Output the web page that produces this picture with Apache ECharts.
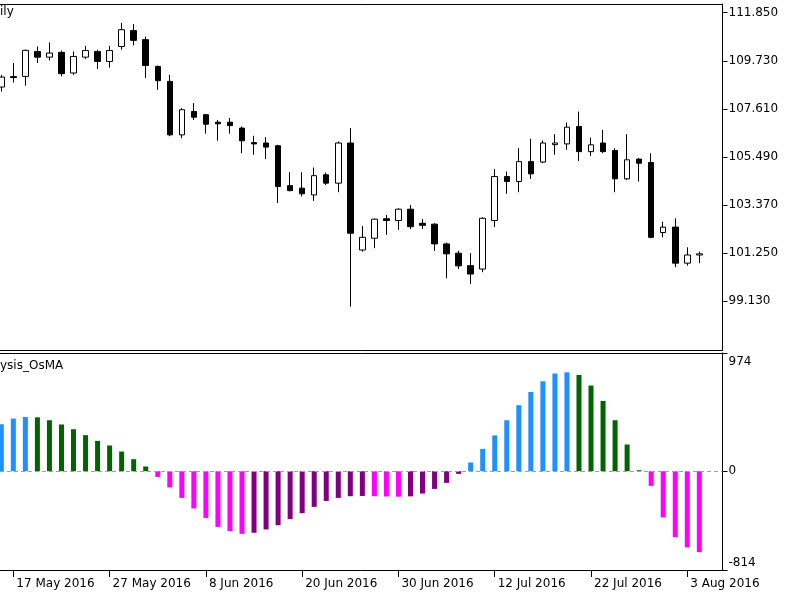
<!DOCTYPE html>
<html>
<head>
<meta charset="utf-8">
<script src="https://cdn.jsdelivr.net/npm/echarts@6/dist/echarts.min.js"></script>
<style>html,body{margin:0;padding:0;background:#fff;}#c{width:800px;height:600px;}</style>
</head>
<body>
<div id="c"></div>
<script>
// ---- data (USDJPY daily, 16 May 2016 – 4 Aug 2016) ----
const dates = [
 '2016.05.16','2016.05.17','2016.05.18','2016.05.19','2016.05.20',
 '2016.05.23','2016.05.24','2016.05.25','2016.05.26','2016.05.27',
 '2016.05.30','2016.05.31','2016.06.01','2016.06.02','2016.06.03',
 '2016.06.06','2016.06.07','2016.06.08','2016.06.09','2016.06.10',
 '2016.06.13','2016.06.14','2016.06.15','2016.06.16','2016.06.17',
 '2016.06.20','2016.06.21','2016.06.22','2016.06.23','2016.06.24',
 '2016.06.27','2016.06.28','2016.06.29','2016.06.30','2016.07.01',
 '2016.07.04','2016.07.05','2016.07.06','2016.07.07','2016.07.08',
 '2016.07.11','2016.07.12','2016.07.13','2016.07.14','2016.07.15',
 '2016.07.18','2016.07.19','2016.07.20','2016.07.21','2016.07.22',
 '2016.07.25','2016.07.26','2016.07.27','2016.07.28','2016.07.29',
 '2016.08.01','2016.08.02','2016.08.03','2016.08.04'
];
const open = [
 108.57,109.03,109.04,110.14,109.89, 110.10,109.19,109.89,110.14,109.70,
 110.36,111.06,110.66,109.48,108.82, 106.46,107.49,107.35,107.02,107.02,
 106.76,106.12,106.10,105.98,104.22, 104.11,103.81,104.70,104.33,106.10,
 101.38,101.90,102.76,102.68,103.18, 102.56,102.52,101.65,101.24,100.69,
 100.54,102.68,104.62,104.40,105.28, 105.26,106.03,106.06,106.83,105.72,
 106.10,105.77,104.52,105.39,105.24, 102.15,102.39,100.80,101.16
];
const close = [
 109.01,108.99,110.19,109.89,110.07, 109.16,109.92,110.18,109.70,110.18,
 111.10,110.63,109.52,108.85,106.46, 107.57,107.24,106.93,106.95,106.87,
 106.20,106.06,105.92,104.18,104.00, 103.86,104.66,104.33,106.10,102.12,
 101.94,102.74,102.68,103.18,102.41, 102.47,101.65,101.21,100.68,100.32,
 102.78,104.62,104.40,105.28,104.74, 106.10,106.10,106.80,105.72,106.02,
 105.72,104.52,105.36,105.21,101.94, 102.39,100.80,101.16,101.21
];
const low = [
 108.37,108.77,108.63,109.63,109.74, 109.04,109.11,109.80,109.36,109.43,
 110.22,110.41,108.97,108.45,106.40, 106.31,107.12,106.51,106.20,106.51,
 105.65,105.58,105.39,103.45,103.97, 103.74,103.55,104.25,103.93,98.88,
 101.31,101.46,102.05,102.27,102.30, 102.31,101.34,100.13,100.54,99.88,
 100.40,102.39,103.86,103.93,104.52, 105.21,105.58,105.80,105.31,105.53,
 105.65,103.93,104.47,104.40,101.90, 101.94,100.62,100.69,100.80
];
const high = [
 109.11,109.63,110.22,110.36,110.54, 110.18,110.14,110.39,110.22,110.39,
 111.40,111.35,110.80,109.52,109.11, 107.64,107.86,107.38,107.12,107.20,
 106.83,106.42,106.36,106.02,104.81, 104.81,105.02,104.80,106.17,106.76,
 102.44,102.77,102.93,103.22,103.37, 102.75,102.56,101.71,101.35,101.24,
 102.83,104.95,104.84,105.87,106.29, 106.21,106.49,107.00,107.49,106.34,
 106.68,105.87,106.49,105.43,105.65, 102.63,102.78,101.50,101.31
];
const osma = [
 387,434,447,444,420, 385,346,297,250,212,
 162,99,39,-47,-134, -220,-307,-385,-459,-494,
 -516,-507,-480,-445,-395, -346,-294,-245,-220,-206,
 -204,-206,-208,-210,-207, -184,-146,-96,-22,72,
 184,295,420,544,653, 741,805,815,793,706,
 579,420,220,8,-121, -381,-544,-628,-667
];
const tickDates = ['2016.05.17','2016.05.27','2016.06.08','2016.06.20','2016.06.30','2016.07.12','2016.07.22','2016.08.03'];
const tickLabels = ['17 May 2016','27 May 2016','8 Jun 2016','20 Jun 2016','30 Jun 2016','12 Jul 2016','22 Jul 2016','3 Aug 2016'];
const priceTicks = [99.13,101.25,103.37,105.49,107.61,109.73,111.85];
const osmaTicks = [-814,0,974];

// ---- build ----
const tickIndex = tickDates.map(d => dates.indexOf(d));
const candleData = dates.map((d,i) => [i, open[i], close[i], low[i], high[i]]);
const osmaData = dates.map((d,i) => [i, osma[i]]);
const COL = {upPos:'#1E90FF', dnPos:'#006400', dnNeg:'#FF00FF', upNeg:'#800080'};
function barColor(p){
  const i = p.dataIndex, v = osma[i], prev = i>0 ? osma[i-1] : -Infinity;
  const rising = v >= prev;
  if (v >= 0) return rising ? COL.upPos : COL.dnPos;
  return rising ? COL.upNeg : COL.dnNeg;
}
const FONT = 'DejaVu Sans';
const XMIN = -0.108, XMAX = 59.925;
const border = {show:true, onZero:false, lineStyle:{color:'#000', width:1}};
function frameAxis(grid, pos){
  return {type:'value', gridIndex:grid, position:pos, min:XMIN, max:XMAX,
    axisLine:border, axisTick:{show:false}, axisLabel:{show:false}, splitLine:{show:false}};
}

const chart = echarts.init(document.getElementById('c'), null, {renderer:'canvas'});
chart.setOption({
  animation:false,
  backgroundColor:'#fff',
  textStyle:{fontFamily:FONT},
  title:[
    {text:'ily', left:0, top:6, padding:0, textStyle:{fontSize:12, fontWeight:'normal', color:'#000', fontFamily:FONT}},
    {text:'ysis_OsMA', left:0, top:360, padding:0, textStyle:{fontSize:12, fontWeight:'normal', color:'#000', fontFamily:FONT}}
  ],
  grid:[
    {left:0, right:77.5, top:4, height:346, show:false},
    {left:0, right:77.5, top:353, height:217, show:false}
  ],
  xAxis:[
    frameAxis(0, 'bottom'),
    frameAxis(0, 'top'),
    {type:'value', gridIndex:1, min:XMIN, max:XMAX, position:'bottom',
     axisLine:border, splitLine:{show:false},
     axisTick:{show:true, length:7, lineStyle:{color:'#000'}, customValues:tickIndex},
     axisLabel:{show:true, customValues:tickIndex, align:'left', margin:8, padding:[0,0,0,3],
       color:'#000', fontSize:12, fontFamily:FONT,
       formatter: v => { const k = tickIndex.indexOf(Math.round(v)); return k >= 0 ? tickLabels[k] : ''; }}
    },
    frameAxis(1, 'top')
  ],
  yAxis:[
    {type:'value', gridIndex:0, position:'right', min:96.968, max:112.234,
     axisLine:border, splitLine:{show:false},
     axisTick:{show:true, length:5, lineStyle:{color:'#000'}, customValues:priceTicks},
     axisLabel:{show:true, customValues:priceTicks, margin:6, color:'#000', fontSize:12, fontFamily:FONT,
       formatter: v => v.toFixed(3)}
    },
    {type:'value', gridIndex:1, position:'right', min:-814, max:974,
     axisLine:border, splitLine:{show:false},
     axisTick:{show:true, length:5, lineStyle:{color:'#000'}, customValues:osmaTicks},
     axisLabel:{show:true, customValues:osmaTicks, margin:6, color:'#000', fontSize:12, fontFamily:FONT,
       formatter: v => v === 974 ? '{t|974}' : (v === -814 ? '{b|-814}' : '{n|' + v + '}'),
       rich:{
         t:{padding:[17,0,0,0], fontSize:12, fontFamily:FONT, color:'#000'},
         b:{padding:[0,0,15,0], fontSize:12, fontFamily:FONT, color:'#000'},
         n:{fontSize:12, fontFamily:FONT, color:'#000'}
       }}
    }
  ],
  series:[
    {type:'candlestick', xAxisIndex:0, yAxisIndex:0, data:candleData,
     encode:{x:0, y:[1,2,3,4]}, barWidth:6,
     itemStyle:{color:'#fff', color0:'#000', borderColor:'#000', borderColor0:'#000', borderWidth:1}},
    {type:'bar', xAxisIndex:2, yAxisIndex:1, data:osmaData, barWidth:5,
     itemStyle:{color:barColor},
     markLine:{silent:true, symbol:'none', label:{show:false},
       lineStyle:{color:'#A0A0A0', type:[4,3], width:1},
       data:[{yAxis:0}]}}
  ]
});
</script>
</body>
</html>
